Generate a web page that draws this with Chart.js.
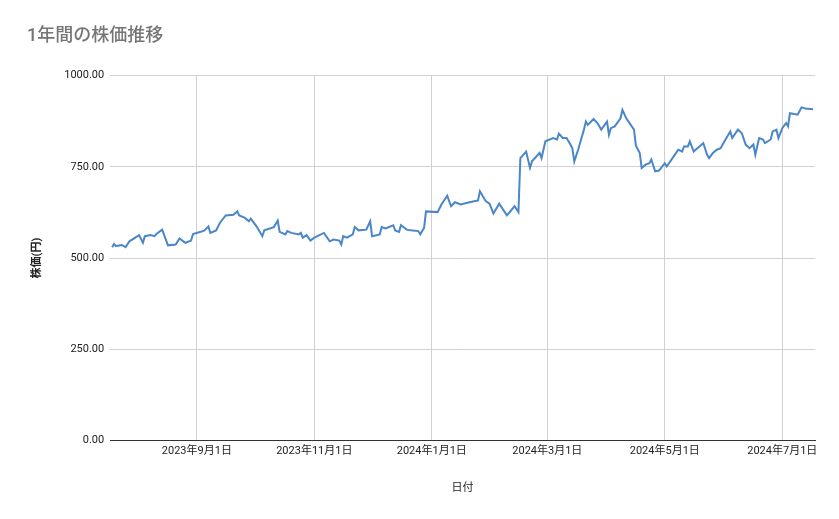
<!DOCTYPE html>
<html><head><meta charset="utf-8">
<script src="https://cdn.jsdelivr.net/npm/chart.js@4"></script>
<style>html,body{margin:0;padding:0;background:#fff}#w{width:839px;height:519px}</style>
</head><body><div id="w"><canvas id="c"></canvas></div>
<script>
const baseDate = '2023-07-18';
const tickDates = ['2023-09-01','2023-11-01','2024-01-01','2024-03-01','2024-05-01','2024-07-01'];
const dayOffsets = [1,2,3,6,8,10,15,17,18,21,23,24,27,30,34,36,39,42,43,47,49,51,52,55,57,60,64,66,67,70,72,73,76,79,80,85,87,88,91,92,94,98,99,100,102,104,106,111,114,116,119,120,121,123,126,127,129,133,135,136,140,141,143,147,148,150,151,154,156,160,
161,163,164,170,172,175,177,179,182,185,189,191,192,195,197,199,202,206,210,212,213,216,218,219,223,224,
226,230,232,233,235,237,239,240,241,243,246,247,248,251,253,255,258,259,260,262,265,266,268,272,273,275,276,278,280,281,283,285,288,
289,292,295,297,298,300,301,303,304,308,310,311,313,315,317,319,322,323,326,328,330,332,334,335,337,339,340,343,344,346,347,349,351,352,353,357,359,361,365];
const prices = [530,539,533,536,530,546,563,542,560,563,560,566,578,535,537,554,542,548,566,572,576,587,569,576,597,617,619,628,617,610,601,608,587,560,576,585,603,572,565,574,569,565,569,556,563,548,556,569,546,551,548,537,560,556,565,585,576,578,601,560,565,585,581,590,576,572,590,578,576,574,
565,583,628,626,647,671,642,653,647,651,656,658,683,656,649,622,649,617,642,626,774,792,747,765,788,774,
820,829,825,841,829,829,811,801,765,797,852,874,865,881,870,852,874,838,856,861,883,906,883,852,808,788,747,756,760,770,738,740,760,
751,774,797,792,806,806,820,792,797,815,783,774,788,797,801,820,847,829,852,842,811,801,811,783,829,825,815,825,847,852,829,856,870,861,897,893,913,910,908];
const yTicks = [0,250,500,750,1000];

const base = new Date(baseDate+'T00:00:00Z');
const toDay = s => Math.round((new Date(s+'T00:00:00Z') - base)/86400000);
const tickDays = tickDates.map(toDay);
const fmt = d => { const t = new Date(base.getTime()+d*86400000); return t.getUTCFullYear()+'年'+(t.getUTCMonth()+1)+'月'+t.getUTCDate()+'日'; };
const pts = dayOffsets.map((d,i)=>({x:d,y:prices[i]}));
const F = "'Roboto','Noto Sans CJK JP',sans-serif";

new Chart(document.getElementById('c'), {
  type:'line',
  data:{datasets:[{data:pts,borderColor:'#4a86c8',borderWidth:2,pointRadius:0,tension:0,fill:false}]},
  options:{
    responsive:true,maintainAspectRatio:false,animation:false,
    layout:{padding:{left:27,right:24,top:0,bottom:20}},
    plugins:{legend:{display:false},tooltip:{enabled:false},
      title:{display:true,text:'1年間の株価推移',align:'start',color:'#757575',font:{family:F,size:18,weight:'500'},padding:{top:26,bottom:28}}},
    scales:{
      x:{type:'linear',min:0,max:366,
        afterBuildTicks:ax=>{ax.ticks=tickDays.map(v=>({value:v}));},
        ticks:{callback:v=>fmt(v),color:'#222',font:{family:F,size:11},maxRotation:0,autoSkip:false,padding:4},
        grid:{color:'#d0d0d0',drawTicks:false},
        border:{color:'#333'},
        title:{display:true,text:'日付',color:'#222',font:{family:F,size:11},padding:{top:20}}},
      y:{min:0,max:1000,
        afterBuildTicks:ax=>{ax.ticks=yTicks.map(v=>({value:v}));},
        ticks:{callback:v=>v.toFixed(2),color:'#222',font:{family:F,size:11},padding:6},
        grid:{color:'#d0d0d0',drawTicks:false},
        border:{display:false},
        title:{display:true,text:'株価(円)',color:'#222',font:{family:F,size:11,weight:'bold'},padding:{bottom:14}}}
    }
  }
});
</script></body></html>
